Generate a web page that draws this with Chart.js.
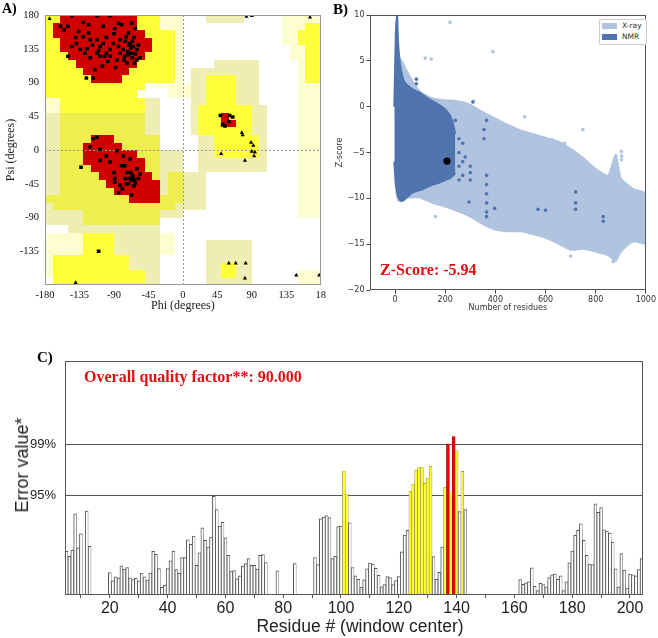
<!DOCTYPE html>
<html><head><meta charset="utf-8">
<script src="https://cdn.jsdelivr.net/npm/chart.js@4.4.0/dist/chart.umd.min.js"></script>
<style>
html,body{margin:0;padding:0;background:#fff;}
body{width:658px;height:638px;position:relative;overflow:hidden;}
canvas{position:absolute;}
.lbl{position:absolute;font-family:"Liberation Serif",serif;font-weight:bold;white-space:nowrap;line-height:1;}
.ax{position:absolute;font-family:"Liberation Sans",sans-serif;color:#222;white-space:nowrap;line-height:1;transform:translate(-50%,-50%);}
.leg{position:absolute;left:599px;top:19px;width:46px;height:24px;border:1px solid #ccc;border-radius:2px;background:#fff;font-family:"DejaVu Sans",sans-serif;font-size:7.5px;color:#333;}
.leg div{position:absolute;left:2px;height:10px;line-height:10px;}
.leg span{display:inline-block;width:15px;height:6px;vertical-align:middle;margin-right:5px;}
</style></head><body>
<canvas id="ca" style="left:0;top:0" width="330" height="315"></canvas>
<canvas id="cb" style="left:330px;top:0" width="328" height="315"></canvas>
<canvas id="cc" style="left:0;top:340px" width="658" height="298"></canvas>
<div class="lbl" style="left:2px;top:2px;font-size:14px;">A)</div>
<div class="lbl" style="left:333px;top:2px;font-size:15px;">B)</div>
<div class="lbl" style="left:37px;top:350px;font-size:15px;">C)</div>
<div class="lbl" style="left:380px;top:262px;font-size:16px;color:#e01010;">Z-Score: -5.94</div>
<div class="lbl" style="left:84px;top:369px;font-size:16px;color:#e01010;">Overall quality factor**: 90.000</div>
<div class="ax" style="left:22px;top:465px;font-size:18px;transform:translate(-50%,-50%) rotate(-90deg);">Error value*</div>
<div class="ax" style="left:360px;top:627px;font-size:17.5px;">Residue # (window center)</div>
<div class="leg"><div style="top:1px"><span style="background:#b0c3df"></span>X-ray</div><div style="top:12px"><span style="background:#5074ad"></span>NMR</div></div>
<script>
// ---------------- Panel A: Ramachandran plot ----------------
const angleTicks = [-180, -135, -90, -45, 0, 45, 90, 135, 180];
// regions as [phiFrom, phiTo, psiFrom, psiTo] in degrees
const khakiRegions = [
  [-180, -150, -100, 50], [-150, -30, -110, 50], [-60, -30, 50, 70],
  [-30, 0, -90, 0], [0, 30, -80, -30],
  [-100, -30, -180, -110],
  [40, 100, 110, 120], [10, 100, 60, 110], [10, 110, 20, 60], [20, 110, -30, 20],
  [30, 90, -180, -120], [30, 80, 170, 180]
];
const paleRegions = [
  [-30, 0, 160, 180], [-10, 0, 90, 160], [-20, 10, 70, 90], [-180, -160, 50, 70],
  [-180, -130, -140, -110], [-180, -170, -170, -140], [-30, -10, -140, -110],
  [130, 180, 140, 180], [140, 180, 120, 140], [150, 180, -90, 120],
  [150, 180, -180, -160]
];
const yellowRegions = [
  [-180, -30, 160, 180], [-180, -10, 90, 160], [-180, -50, 80, 90], [-180, -60, 70, 80], [-160, -50, 50, 70],
  [-170, -50, -180, -160], [-170, -70, -160, -140], [-130, -90, -140, -110],
  [30, 70, 60, 100], [20, 90, 20, 60], [40, 100, -10, 20],
  [50, 70, -170, -150],
  [160, 180, 90, 170], [150, 160, 140, 160]
];
const yellowAlphaRegions = [
  [-160, -50, 20, 50], [-160, -30, -60, 20], [-180, -10, -70, -60], [-170, -10, -80, -70],
  [-130, -30, -100, -80], [-20, 0, -70, -30]
];
const redRegions = [
  [-160, -60, 170, 180], [-170, -60, 160, 170], [-170, -50, 150, 160], [-160, -40, 130, 150],
  [-150, -50, 120, 130], [-140, -60, 110, 120], [-130, -70, 100, 110], [-120, -80, 90, 100],
  [-120, -90, 10, 20], [-130, -80, 0, 10], [-130, -60, -10, 0], [-130, -50, -20, -10],
  [-120, -50, -30, -20], [-110, -40, -40, -30], [-100, -30, -50, -40], [-90, -30, -60, -50],
  [-70, -30, -70, -60],
  [50, 60, 40, 50], [50, 70, 30, 40]
];
const residuePoints = [
  [-145,179],[-112,179],[-95,179],[-84,169],[-160,165],[-150,165],[-136,158],[-130,151],[-123,156],[-121,147],
  [-112,147],[-108,138],[-112,129],[-100,129],[-91,142],[-82,147],[-74,151],[-69,142],[-65,138],[-60,134],
  [-67,129],[-56,123],[-63,116],[-73,116],[-76,125],[-82,129],[-95,125],[-108,125],[-121,123],[-128,129],
  [-134,134],[-145,138],[-150,125],[-115,107],[-126,96],[-117,96],[-102,125],[-84,138],[-71,156],[-62,162],
  [-80,167],[-67,169],[-89,162],[-104,165],[-123,167],[-139,142],[-95,134],[-104,142],[-68,136],[-72,131],
  [-66,123],[-78,134],[-70,140],[-66,145],[-62,128],[-58,140],[-71,127],[-64,150],[-75,145],[-60,120],
  [-77,120],[-86,120],[-118,140],[-125,135],[-110,133],[-100,150],[-90,155],[-140,150],[-155,160],[-130,170],
  [-98,118],[-105,112],[-88,110],
  [-112,17],[-117,15],[-108,1],[-100,-8],[-108,-14],[-95,-16],[-86,-1],[-78,-8],[-76,-21],[-69,-12],
  [-73,-30],[-60,-25],[-56,-32],[-65,-36],[-67,-40],[-71,-45],[-63,-40],[-58,-38],[-89,-38],[-89,-43],
  [-82,-47],[-79,-52],[-84,-57],[-67,-60],[-74,-45],[-66,-34],[-80,-21],[-133,-23],[-121,4],[-62,-44],
  [-70,-38],[-64,-48],[-75,-38],[-68,-30],[-90,-30],
  [49,46],[52,34],[61,46],[65,44],[60,38],[55,32],
  [-110,-135]
];
const glycinePoints = [
  [-174,175],[90,179],[83,178],[166,177],[77,23],[89,10],[92,6],[90,-2],[94,-3],[81,-14],
  [93,-8],[50,-5],[69,-151],[82,-151],[81,-171],[60,-151],[148,-167],[178,-167],[-140,-177],[78,20]
];

const COL = {red:'#cf0000', yellow:'#ffff3a', yellowA:'#eeee4c', khaki:'#eeeeb4', pale:'#fdfdcf'};

const regionPlugin = {
  id: 'regions',
  beforeDatasetsDraw(chart) {
    const {ctx, chartArea: a, scales: {x, y}} = chart;
    ctx.save();
    ctx.beginPath(); ctx.rect(a.left, a.top, a.width, a.height); ctx.clip();
    const layers = [[khakiRegions, COL.khaki], [paleRegions, COL.pale], [yellowAlphaRegions, COL.yellowA],
                    [yellowRegions, COL.yellow], [redRegions, COL.red]];
    for (const [list, color] of layers) {
      ctx.fillStyle = color;
      for (const r of list) {
        const x0 = Math.round(x.getPixelForValue(r[0])), x1 = Math.round(x.getPixelForValue(r[1]));
        const y0 = Math.round(y.getPixelForValue(r[3])), y1 = Math.round(y.getPixelForValue(r[2]));
        ctx.fillRect(x0, y0, x1 - x0, y1 - y0);
      }
    }
    ctx.strokeStyle = '#999'; ctx.lineWidth = 1; ctx.setLineDash([2, 2]);
    const x0 = Math.round(x.getPixelForValue(0)) + 0.5, y0 = Math.round(y.getPixelForValue(0)) + 0.5;
    ctx.beginPath(); ctx.moveTo(x0, a.top); ctx.lineTo(x0, a.bottom); ctx.moveTo(a.left, y0); ctx.lineTo(a.right, y0); ctx.stroke();
    ctx.restore();
  }
};
const boxPlugin = {
  id: 'box',
  afterDraw(chart, args, opts) {
    const {ctx, chartArea: a} = chart;
    ctx.save(); ctx.strokeStyle = opts.color || '#555'; ctx.lineWidth = 1;
    ctx.strokeRect(Math.round(a.left) + 0.5, Math.round(a.top) + 0.5, Math.round(a.width) - 1, Math.round(a.height) - 1);
    ctx.restore();
  }
};

new Chart(document.getElementById('ca'), {
  type: 'scatter',
  data: { datasets: [
    { data: residuePoints.map(p => ({x: p[0], y: p[1]})), pointStyle: 'rect', pointRadius: 2.6, backgroundColor: '#000', borderColor: '#000', borderWidth: 0 },
    { data: glycinePoints.map(p => ({x: p[0], y: p[1]})), pointStyle: 'triangle', pointRadius: 2.4, backgroundColor: '#000', borderColor: '#000', borderWidth: 0 }
  ]},
  options: {
    responsive: false, animation: false, events: [],
    layout: { padding: { top: 15, right: 9, left: 0, bottom: 0 } },
    plugins: { legend: { display: false }, tooltip: { enabled: false }, box: { color: '#999' } },
    scales: {
      x: { type: 'linear', min: -180, max: 180,
        afterBuildTicks: s => { s.ticks = angleTicks.map(v => ({value: v})); },
        afterFit: s => { s.height = 30; },
        ticks: { autoSkip: false, maxRotation: 0, padding: 4, color: '#111', font: { family: 'Liberation Serif', size: 10.5 },
                 callback: v => v === 180 ? '18' : String(v) },
        grid: { display: false, drawTicks: false }, border: { display: false },
        title: { display: true, text: 'Phi (degrees)', color: '#222', font: { family: 'Liberation Serif', size: 12 }, padding: { top: 0, bottom: 2 } } },
      y: { type: 'linear', min: -180, max: 180,
        afterBuildTicks: s => { s.ticks = angleTicks.map(v => ({value: v})); },
        afterFit: s => { s.width = 45; },
        ticks: { autoSkip: false, padding: 6, color: '#111', font: { family: 'Liberation Serif', size: 10.5 },
                 callback: v => v === -180 ? '' : String(v) },
        grid: { display: false, drawTicks: false }, border: { display: false },
        title: { display: true, text: 'Psi (degrees)', color: '#222', font: { family: 'Liberation Serif', size: 12 }, padding: { top: 4, bottom: 0 } } }
    }
  },
  plugins: [regionPlugin, boxPlugin]
});

// ---------------- Panel B: Z-score plot ----------------
const zTicksX = [0, 200, 400, 600, 800, 1000];
const zTicksY = [-20, -15, -10, -5, 0, 5, 10];
const xrayResidues = [2, 6, 15, 30, 60, 100, 150, 200, 250, 300, 350, 400, 450, 500, 550, 600, 650, 700, 750, 800, 850, 880, 900, 950, 1000];
const xrayUpper    = [-1, 9, 5.5, 4.8, 3.2, 1.6, 0.9, 0.7, 0.6, 0.2, -0.6, -1.3, -2.0, -2.6, -3.0, -3.4, -3.8, -4.6, -5.6, -6.8, -7.5, -5.2, -7.8, -9.0, -9.4];
const xrayLower    = [-6, -9.6, -10.3, -10.1, -9.9, -9.9, -10.5, -10.9, -11.4, -12.0, -12.8, -13.4, -13.6, -13.6, -13.9, -14.3, -14.9, -15.6, -15.5, -15.8, -16.2, -16.8, -15.8, -14.7, -15.0];
const nmrResidues  = [-3, 3, 8, 12, 18, 25, 35, 50, 75, 100, 125, 150, 175, 200, 220, 232, 240];
const nmrUpper     = [0, 8, 10, 7, 5, 3.8, 2.8, 2.3, 1.8, 1.5, 1.0, 0.6, 0.2, -0.3, -1.0, -2.0, -3.0];
const nmrLower     = [-6, -8.5, -9.3, -9.8, -10.1, -10.3, -10.2, -9.8, -9.3, -9.1, -8.8, -8.5, -8.3, -8.0, -7.8, -7.5, -7.2];
const xraySparse = [[219, 9.2], [390, 6.0], [144, 5.2], [120, 5.3], [313, 0.6], [517, -1.1], [749, -2.5], [676, -4.0], [625, -3.6],
                    [903, -4.9], [903, -5.4], [903, -5.8], [161, -12.0], [700, -16.3], [870, -16.9], [940, -9.6]];
const nmrSparse = [[255, -3.5], [255, -5], [255, -6.5], [255, -8], [270, -4], [270, -6], [270, -7.5], [280, -5.5],
                   [300, -6.5], [300, -7.2], [300, -8], [295, -10.4], [365, -1.5], [355, -2.5], [355, -3.5],
                   [365, -7.5], [365, -8.5], [365, -9.5], [365, -10.5], [365, -11.5], [365, -12], [397, -11.1],
                   [570, -11.2], [600, -11.3], [720, -9.3], [720, -10.5], [720, -11.2], [830, -12.0], [830, -12.5],
                   [310, 0.5], [85, 2.5], [85, 1.5], [85, 3.0], [240, -1.5]];
const targetProtein = [[207, -5.94]];

const XRAY = '#b0c3df', NMR = '#5074ad';
const toXY = (xs, ys) => xs.map((v, i) => ({x: v, y: ys[i]}));
const minusFmt = v => v < 0 ? '\u2212' + Math.abs(v) : String(v);

new Chart(document.getElementById('cb'), {
  type: 'scatter',
  data: { datasets: [
    { data: targetProtein.map(p => ({x: p[0], y: p[1]})), pointRadius: 3.6, backgroundColor: '#000', borderWidth: 0, order: 0 },
    { data: nmrSparse.map(p => ({x: p[0], y: p[1]})), pointRadius: 1.8, backgroundColor: NMR, borderWidth: 0, order: 1 },
    { data: toXY(nmrResidues, nmrUpper), showLine: true, fill: '+1', backgroundColor: NMR, borderColor: NMR, borderWidth: 2, pointRadius: 0, tension: 0.2, order: 2 },
    { data: toXY(nmrResidues, nmrLower), showLine: true, fill: false, borderColor: NMR, borderWidth: 2, pointRadius: 0, tension: 0.2, order: 2 },
    { data: xraySparse.map(p => ({x: p[0], y: p[1]})), pointRadius: 1.8, backgroundColor: XRAY, borderWidth: 0, order: 3 },
    { data: toXY(xrayResidues, xrayUpper), showLine: true, fill: '+1', backgroundColor: XRAY, borderColor: XRAY, borderWidth: 2, pointRadius: 0, tension: 0.2, order: 4 },
    { data: toXY(xrayResidues, xrayLower), showLine: true, fill: false, borderColor: XRAY, borderWidth: 2, pointRadius: 0, tension: 0.2, order: 4 }
  ]},
  options: {
    responsive: false, animation: false, events: [],
    layout: { padding: { top: 15, right: 10, left: 0, bottom: 0 } },
    plugins: { legend: { display: false }, tooltip: { enabled: false }, box: { color: '#555' } },
    scales: {
      x: { type: 'linear', min: -100, max: 1000,
        afterBuildTicks: s => { s.ticks = zTicksX.map(v => ({value: v})); },
        afterFit: s => { s.height = 25; },
        ticks: { autoSkip: false, maxRotation: 0, padding: 2, color: '#333', font: { family: 'DejaVu Sans', size: 8 }, callback: v => String(v) },
        grid: { drawOnChartArea: false, drawTicks: true, tickLength: 3.5, color: '#444' }, border: { display: false },
        title: { display: true, text: 'Number of residues', color: '#333', font: { family: 'DejaVu Sans', size: 8 }, padding: { top: 0, bottom: 2 } } },
      y: { type: 'linear', min: -20, max: 10,
        afterBuildTicks: s => { s.ticks = zTicksY.map(v => ({value: v})); },
        afterFit: s => { s.width = 40; },
        ticks: { autoSkip: false, padding: 2, color: '#333', font: { family: 'DejaVu Sans', size: 8 }, callback: minusFmt },
        grid: { drawOnChartArea: false, drawTicks: true, tickLength: 3.5, color: '#444' }, border: { display: false },
        title: { display: true, text: 'Z-score', color: '#333', font: { family: 'DejaVu Sans', size: 8 }, padding: { top: 5, bottom: 0 } } }
    }
  },
  plugins: [boxPlugin]
});

// ---------------- Panel C: ERRAT error values ----------------
const firstResidue = 5;
const errorValues = [
  5.0, 4.44, 5.12, 9.29, 5.39, 7.02, 0, 9.6, 5.58,
  0, 0, 0, 0, 0, 0,
  2.58, 1.63, 2.09, 1.97, 3.34, 2.96, 3.15, 1.97, 1.78, 1.90,
  1.63, 2.50, 2.09, 1.71, 2.50, 5.01, 4.67, 3.03, 0.87, 1.14,
  3.03, 3.91, 5.04, 2.92, 2.47, 4.29, 4.29, 6.33, 5.80, 6.75,
  3.41, 4.82, 7.70, 6.26, 5.50, 6.64, 11.3, 9.79, 7.89, 8.31,
  6.56, 4.55, 2.73, 2.81, 1.86, 2.20, 3.30, 3.60, 4.17, 3.41,
  3.41, 2.96, 4.55, 4.63, 3.72, 0, 0, 0, 2.77, 0,
  0, 0, 0, 0, 3.60, 0, 0, 0, 0, 0,
  0, 4.29, 3.49, 8.72, 8.91, 9.10, 8.88, 4.17, 4.44, 7.85,
  7.90, 14.19, 11.57, 8.27, 3.15, 2.2, 1.8, 0.9, 1.75, 3.0,
  3.65, 3.55, 3.05, 2.25, 0.95, 1.2, 2.1, 2.0, 1.2, 1.65,
  2.1, 4.95, 6.85, 7.4, 11.91, 12.71, 14.3, 14.6, 14.6, 12.78,
  13.39, 14.75, 4.4, 1.8, 2.6, 5.5, 12.35, 17.26, 11.7, 18.13,
  16.5, 9.56, 14.15, 9.79, 0, 0, 0, 0, 0, 0,
  0, 0, 0, 0, 0, 0, 0, 0, 0, 0,
  0, 0, 1.78, 1.21, 1.40, 1.52, 3.11, 1.0, 0.5, 1.33,
  1.2, 0.95, 2.0, 2.3, 2.4, 1.8, 2.2, 0.5, 1.5, 3.68,
  5.04, 6.83, 7.4, 8.15, 6.26, 4.55, 3.53, 3.49, 10.43, 9.48,
  10.0, 7.47, 7.32, 7.09, 6.07, 3.0, 0.9, 4.74, 2.85, 0.8,
  2.4, 2.3, 2.2, 2.9, 4.17
];
const residueLabels = errorValues.map((_, i) => String(firstResidue + i));
const limit95 = 11.38, limit99 = 17.19;
const limitLabels = { [limit95]: '95%', [limit99]: '99%' };
const barLevel = v => v > limit99 ? 2 : v > limit95 ? 1 : 0;
const barFill = ['#ffffff', '#ffff33', '#ee0000'];
const barEdge = ['#555555', '#858550', '#990000'];

new Chart(document.getElementById('cc'), {
  type: 'bar',
  data: { labels: residueLabels, datasets: [{
    data: errorValues,
    backgroundColor: c => barFill[barLevel(c.raw)],
    borderColor: c => barEdge[barLevel(c.raw)],
    borderWidth: c => barLevel(c.raw) ? { left: 0.6, top: 0.6, right: 0.6, bottom: 0 } : { left: 1, top: 1, right: 0.6, bottom: 0 },
    borderSkipped: false,
    barPercentage: 1, categoryPercentage: 1
  }]},
  options: {
    responsive: false, animation: false, events: [],
    layout: { padding: { top: 21, right: 15, left: 0, bottom: 0 } },
    plugins: { legend: { display: false }, tooltip: { enabled: false }, box: { color: '#555' } },
    scales: {
      x: { type: 'category', offset: true,
        afterFit: s => { s.height = 43; },
        ticks: { autoSkip: false, maxRotation: 0, minRotation: 0, padding: 1, color: '#222', font: { family: 'Liberation Sans', size: 16 },
                 callback: function (val) { const r = +this.getLabelForValue(val); return r % 20 === 0 ? String(r) : ''; } },
        grid: { offset: false, drawOnChartArea: false, drawTicks: true, tickLength: 3,
                color: c => (c.tick && +residueLabels[c.index] % 10 === 0) ? '#555' : 'rgba(0,0,0,0)' },
        border: { display: false },
        title: { display: false } },
      y: { type: 'linear', min: 0, max: 26.8,
        afterBuildTicks: s => { s.ticks = [limit95, limit99].map(v => ({value: v})); },
        afterFit: s => { s.width = 65; },
        ticks: { padding: 9, color: '#222', font: { family: 'Liberation Sans', size: 13 }, callback: v => limitLabels[v] },
        grid: { drawTicks: false, color: '#555', lineWidth: 1 },
        border: { display: false },
        title: { display: false } }
    }
  },
  plugins: [boxPlugin]
});
</script>
</body></html>
